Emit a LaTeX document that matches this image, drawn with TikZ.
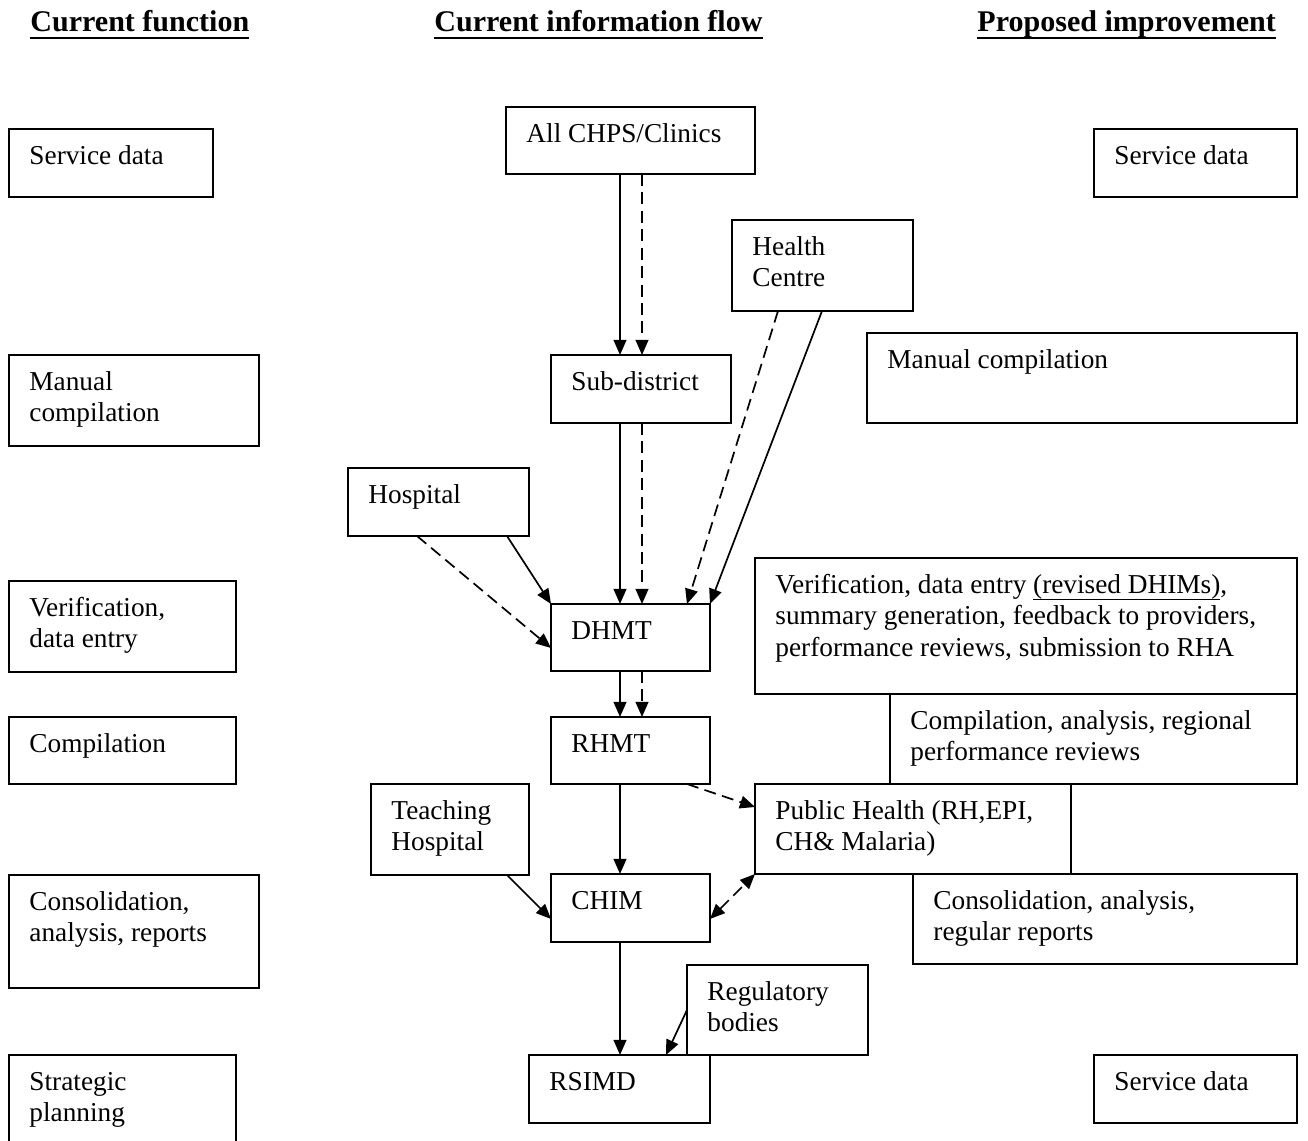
\documentclass[tikz,border=0pt]{standalone}
\usepackage{fontspec}
\setmainfont{Liberation Serif}
\usetikzlibrary{arrows.meta,fit,calc}
\newcommand\mlines[1]{\begin{tabular}[t]{@{}l@{}}#1\end{tabular}}
\newcommand\ulbold[1]{\setbox0\hbox{\bfseries #1}\rlap{\vrule height -2.0pt depth 2.9pt width \wd0}\box0}
\newcommand\ulin[1]{\setbox0\hbox{#1}\rlap{\vrule height -2.3pt depth 2.9pt width \wd0}\box0}
\newcommand\bx[6]{%
  \node[box, fit={(#2,#3) (#4,#5)}] (#1) {};
  \node[txt] (#1-t) at ($(#1.north west)+(20,35.5)$) {\mlines{#6}};
}
\tikzset{
  box/.style={draw, line width=0.85pt, inner sep=0pt, outer sep=0pt},
  txt/.style={anchor=base west, inner sep=0pt, font=\fontsize{12}{13.8}\selectfont},
  title/.style={anchor=base west, inner sep=0pt, font=\fontsize{13.2}{15}\selectfont\bfseries},
  arr/.style={line width=0.75pt, -{Triangle[length=6.6pt,width=5.6pt]}},
  darr/.style={arr, dash pattern=on 5.3pt off 2.8pt},
  bidarr/.style={line width=0.75pt, dash pattern=on 5.3pt off 2.8pt, {Triangle[length=6.6pt,width=5.6pt]}-{Triangle[length=6.6pt,width=5.6pt]}}
}
\begin{document}
\begin{tikzpicture}[x=0.43956pt, y=-0.43956pt]
\useasboundingbox (0,0) rectangle (1308,1141);
\fill[white] (0,0) rectangle (1308,1141);
\clip (0,0) rectangle (1308,1141);

% titles
\node[title] (t1) at (30,32) {\ulbold{Current function}};
\node[title] (t2) at (434,32) {\ulbold{Current information flow}};
\node[title] (t3) at (977,32) {\ulbold{Proposed improvement}};

% left column
\bx{lsd}{9}{129}{213}{197}{Service data}
\bx{lmc}{9}{355}{259}{446}{Manual\\compilation}
\bx{lver}{9}{581}{236}{672}{Verification,\\data entry}
\bx{lcomp}{9}{717}{236}{784}{Compilation}
\bx{lcons}{9}{875}{259}{988}{Consolidation,\\analysis, reports}
\bx{lstrat}{9}{1055}{236}{1170}{Strategic\\planning}

% middle column
\bx{chps}{506}{107}{755}{174}{All CHPS/Clinics}
\bx{hc}{732}{220}{913}{311}{Health\\Centre}
\bx{sub}{551}{355}{731}{423}{Sub-district}
\bx{hosp}{348}{468}{529}{536}{Hospital}
\bx{dhmt}{551}{604}{710}{671}{DHMT}
\bx{rhmt}{551}{717}{710}{784}{RHMT}
\bx{teach}{371}{784}{529}{875}{Teaching\\Hospital}
\bx{chim}{551}{874}{710}{942}{CHIM}
\bx{reg}{687}{965}{868}{1055}{Regulatory\\bodies}
\bx{rsimd}{529}{1055}{710}{1123}{RSIMD}
\bx{ph}{755}{784}{1071}{874}{Public Health (RH,EPI,\\CH\& Malaria)}

% right column
\bx{rsd}{1094}{129}{1297}{197}{Service data}
\bx{rmc}{867}{333}{1297}{423}{Manual compilation}
\bx{rver}{755}{558}{1297}{694}{Verification, data entry \ulin{(revised DHIMs)},\\summary generation, feedback to providers,\\performance reviews, submission to RHA}
\bx{rcomp}{890}{694}{1297}{784}{Compilation, analysis, regional\\performance reviews}
\bx{rcons}{913}{874}{1297}{964}{Consolidation, analysis,\\regular reports}
\bx{rsd2}{1094}{1055}{1297}{1123}{Service data}

% connectors
\coordinate (colS) at (620,0);
\coordinate (colD) at (642,0);
\draw[arr]  (chps.south -| colS) -- (sub.north -| colS);
\draw[darr] (chps.south -| colD) -- (sub.north -| colD);
\draw[arr]  (sub.south -| colS) -- (dhmt.north -| colS);
\draw[darr] (sub.south -| colD) -- (dhmt.north -| colD);
\draw[arr]  (dhmt.south -| colS) -- (rhmt.north -| colS);
\draw[darr] (dhmt.south -| colD) -- (rhmt.north -| colD);
\draw[arr]  (rhmt.south -| colS) -- (chim.north -| colS);
\draw[arr]  (chim.south -| colS) -- (rsimd.north -| colS);

\draw[darr] ($(hc.south west)+(46,0)$) -- ($(dhmt.north west)+(136,0)$);
\draw[arr]  ($(hc.south west)+(90,0)$) -- (dhmt.north east);
\draw[arr]  ($(hosp.south east)+(-22,0)$) -- (dhmt.north west);
\draw[darr] ($(hosp.south west)+(69,0)$) -- ($(dhmt.south west)+(0,-23)$);
\draw[darr] ($(rhmt.south east)+(-23,0)$) -- ($(ph.north west)+(0,23)$);
\draw[arr]  ($(teach.south east)+(-22,0)$) -- ($(chim.south west)+(0,-23)$);
\draw[bidarr] ($(chim.south east)+(0,-23)$) -- (ph.south west);
\draw[arr]  (reg.west) -- ($(rsimd.north east)+(-44,0)$);
\end{tikzpicture}
\end{document}
